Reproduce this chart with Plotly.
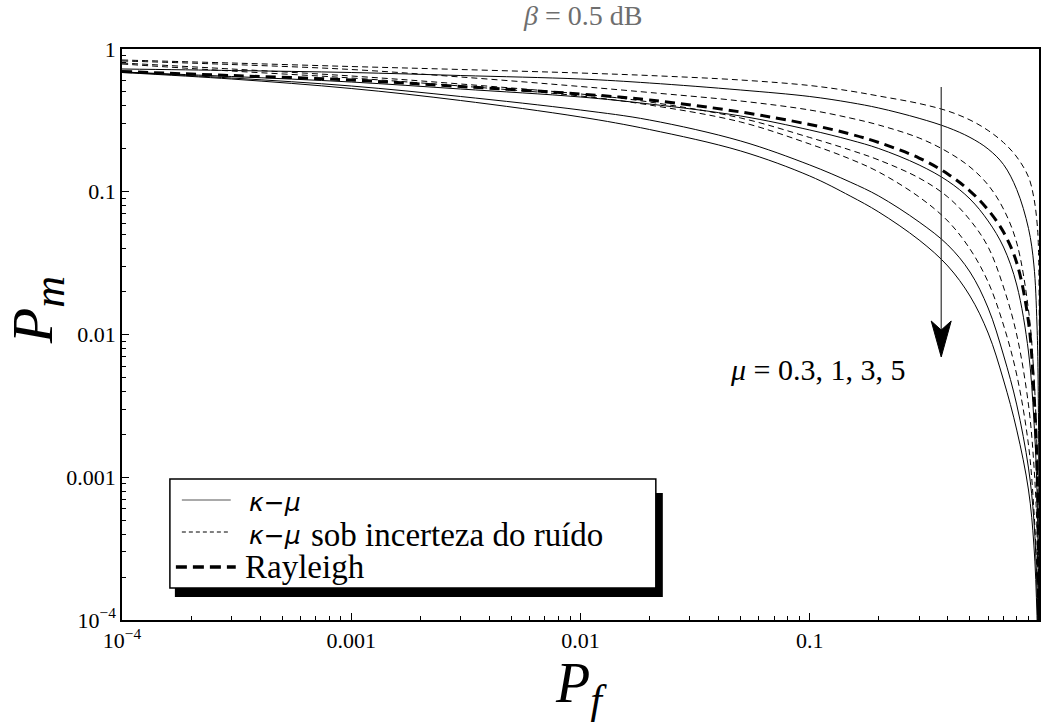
import plotly.graph_objects as go

# ---------------- data ----------------
pf = [1e-4, 3e-4, 1e-3, 3e-3, 1e-2, 0.02, 0.05, 0.1, 0.15, 0.2, 0.3, 0.4, 0.5, 0.6, 0.7,
      0.8, 0.9, 0.95, 0.98, 0.995, 0.99999]

# kappa-mu (solid), mu = 0.3, 1, 3, 5
km_mu03 = [0.7244, 0.7070, 0.6845, 0.6520, 0.6164, 0.5779, 0.5162, 0.4648, 0.4219, 0.3861, 0.3269,
           0.2818, 0.2403, 0.1993, 0.1552, 0.1035, 0.0553, 0.0307, 0.01166, 0.00252, 1e-5]
km_mu1 = [0.6900, 0.6418, 0.5872, 0.5245, 0.4610, 0.4118, 0.3393, 0.2708, 0.2304, 0.2009, 0.1540,
          0.1189, 0.0890, 0.0624, 0.0410, 0.0222, 0.00754, 0.00252, 0.000814, 0.0001175, 1e-5]
km_mu3 = [0.6900, 0.6264, 0.5505, 0.4648, 0.3738, 0.3182, 0.2267, 0.1540, 0.1170, 0.0934, 0.0614,
          0.0424, 0.0274, 0.01533, 0.00718, 0.00321, 0.00116, 0.000502, 0.000162, 0.000038, 1e-5]
km_mu5 = [0.6845, 0.6164, 0.5288, 0.4357, 0.3339, 0.2729, 0.1930, 0.1289, 0.0934, 0.0721, 0.0459,
          0.0302, 0.0186, 0.01024, 0.0048, 0.00214, 0.000814, 0.000335, 0.000108, 0.0000323, 1e-5]

# kappa-mu under noise uncertainty (dashed), mu = 0.3, 1, 3, 5
kmn_mu03 = [0.8375, 0.7979, 0.7538, 0.7185, 0.6788, 0.6520, 0.6064, 0.5549, 0.5078, 0.4685, 0.4150,
            0.3678, 0.3182, 0.2686, 0.2213, 0.1752, 0.1269, 0.0904, 0.0614, 0.0391, 1e-5]
kmn_mu1 = [0.8241, 0.7788, 0.7185, 0.6366, 0.5461, 0.4958, 0.4322, 0.3738, 0.3285, 0.2935, 0.2380,
           0.1898, 0.1491, 0.1115, 0.0757, 0.0437, 0.01485, 0.0052, 0.00155, 0.000263, 1e-5]
kmn_mu3 = [0.7979, 0.7244, 0.6470, 0.5686, 0.4839, 0.4253, 0.3285, 0.2399, 0.1961, 0.1669, 0.1248,
           0.0919, 0.0634, 0.0410, 0.0215, 0.00992, 0.00321, 0.00122, 0.000427, 0.0000724, 1e-5]
kmn_mu5 = [0.7851, 0.7012, 0.6264, 0.5505, 0.4685, 0.4052, 0.3080, 0.2160, 0.1696, 0.1375, 0.0919,
           0.0624, 0.0397, 0.0233, 0.01166, 0.0052, 0.00168, 0.00059, 0.000207, 0.0000525, 1e-5]

# Rayleigh (thick dashed)
rayleigh = [0.6956, 0.6520, 0.6064, 0.5461, 0.4839, 0.4393, 0.3620, 0.2958, 0.2538, 0.2213, 0.1723,
            0.1331, 0.1012, 0.0745, 0.0522, 0.0317, 0.01224, 0.00396, 0.00122, 0.000176, 1e-5]

tick_vals = [1e-4, 1e-3, 1e-2, 1e-1, 1]
x_tick_text = ["10<sup>\u22124</sup>", "0.001", "0.01", "0.1", "1"]
y_tick_text = ["10<sup>\u22124</sup>", "0.001", "0.01", "0.1", "1"]

title_text = "<i>\u03b2</i> = 0.5 dB"
legend_kappa_mu = "<i>\u03ba\u2212\u03bc</i>"
legend_noise = "sob incerteza do ruído"
legend_rayleigh = "Rayleigh"
arrow_label = "<i>\u03bc</i> = 0.3, 1, 3, 5"

# ---------------- layout geometry ----------------
W, H = 1042, 722
L, R, T, B = 122, 1041, 49, 620


def px(x):
    return (x - L) / (R - L)


def py(y):
    return (B - y) / (B - T)


SERIF = "Liberation Serif"

fig = go.Figure()

for ys in [km_mu03, km_mu1, km_mu3, km_mu5]:
    fig.add_trace(go.Scatter(x=pf, y=ys, mode="lines",
                             line=dict(color="black", width=1, shape="spline", smoothing=1),
                             showlegend=False, hoverinfo="skip"))
for ys in [kmn_mu03, kmn_mu1, kmn_mu3, kmn_mu5]:
    fig.add_trace(go.Scatter(x=pf, y=ys, mode="lines",
                             line=dict(color="black", width=1, dash="6px,4px", shape="spline", smoothing=1),
                             showlegend=False, hoverinfo="skip"))
fig.add_trace(go.Scatter(x=pf, y=rayleigh, mode="lines",
                         line=dict(color="black", width=3, dash="10px,6px", shape="spline", smoothing=1),
                         showlegend=False, hoverinfo="skip"))

minor_vals = [m * 10 ** k for k in range(-4, 0) for m in range(2, 10)]

axis_common = dict(
    type="log",
    showgrid=False,
    zeroline=False,
    showline=True,
    linecolor="black",
    linewidth=1.5,
    ticks="inside",
    ticklen=7,
    tickwidth=1,
    tickcolor="black",
    tickvals=tick_vals,
    tickfont=dict(family=SERIF, size=22, color="black"),
    minor=dict(ticks="inside", ticklen=4, tickwidth=1, tickcolor="black", tickvals=minor_vals, showgrid=False),
)

fig.update_xaxes(**axis_common, range=[-4, 0], ticktext=x_tick_text, mirror=True)
fig.update_yaxes(**axis_common, range=[-4, 0], ticktext=y_tick_text, mirror=True)

shapes = []
annotations = []

# legend box with shadow
shapes.append(dict(type="rect", xref="paper", yref="paper",
                   x0=px(175), x1=px(664), y0=py(597), y1=py(493),
                   fillcolor="black", line=dict(width=0), layer="above"))
shapes.append(dict(type="rect", xref="paper", yref="paper",
                   x0=px(170), x1=px(657), y0=py(588), y1=py(479),
                   fillcolor="white", line=dict(color="black", width=1.5), layer="above"))
# legend samples
shapes.append(dict(type="line", xref="paper", yref="paper", x0=px(182), x1=px(231), y0=py(500), y1=py(500),
                   line=dict(color="#555", width=1), layer="above"))
shapes.append(dict(type="line", xref="paper", yref="paper", x0=px(182), x1=px(231), y0=py(532), y1=py(532),
                   line=dict(color="black", width=1, dash="4px,3px"), layer="above"))
shapes.append(dict(type="line", xref="paper", yref="paper", x0=px(176), x1=px(236), y0=py(567), y1=py(567),
                   line=dict(color="black", width=3.5, dash="11px,6px"), layer="above"))

annotations.append(dict(xref="paper", yref="paper", x=px(247), y=py(502), xanchor="left", yanchor="middle",
                        text=legend_kappa_mu, showarrow=False,
                        font=dict(family="DejaVu Sans", size=25, color="black")))
annotations.append(dict(xref="paper", yref="paper", x=px(247), y=py(535), xanchor="left", yanchor="middle",
                        text=legend_kappa_mu, showarrow=False,
                        font=dict(family="DejaVu Sans", size=25, color="black")))
annotations.append(dict(xref="paper", yref="paper", x=px(309), y=py(535), xanchor="left", yanchor="middle",
                        text=legend_noise, showarrow=False,
                        font=dict(family=SERIF, size=33, color="black")))
annotations.append(dict(xref="paper", yref="paper", x=px(243), y=py(567), xanchor="left", yanchor="middle",
                        text=legend_rayleigh, showarrow=False, font=dict(family=SERIF, size=33, color="black")))

# arrow
shapes.append(dict(type="line", xref="paper", yref="paper", x0=px(943), x1=px(943), y0=py(87), y1=py(330),
                   line=dict(color="#333", width=1.2), layer="above"))
shapes.append(dict(type="path", xref="paper", yref="paper",
                   path="M {:.5f},{:.5f} L {:.5f},{:.5f} L {:.5f},{:.5f} L {:.5f},{:.5f} Z".format(
                       px(933), py(321), px(943), py(357), px(953), py(321), px(943), py(330)),
                   fillcolor="black", line=dict(color="black", width=1), layer="above"))
annotations.append(dict(xref="paper", yref="paper", x=px(819), y=py(369), xanchor="center", yanchor="middle",
                        text=arrow_label, showarrow=False, font=dict(family=SERIF, size=30, color="black")))

# title
annotations.append(dict(xref="paper", yref="paper", x=px(584), y=py(15), xanchor="center", yanchor="middle",
                        text=title_text, showarrow=False, font=dict(family=SERIF, size=28, color="#6e6e6e")))
# axis titles
annotations.append(dict(xref="paper", yref="paper", x=px(37), y=py(310), xanchor="center", yanchor="middle",
                        text="<i>P</i><sub><i><span style='font-size:44px'>m</span></i></sub>",
                        textangle=-90, showarrow=False,
                        font=dict(family=SERIF, size=58, color="black")))
annotations.append(dict(xref="paper", yref="paper", x=px(582), y=py(687), xanchor="center", yanchor="middle",
                        text="<i>P</i><sub><i><span style='font-size:42px'>f</span></i></sub>",
                        showarrow=False,
                        font=dict(family=SERIF, size=56, color="black")))

fig.update_layout(
    width=W, height=H,
    margin=dict(l=L, r=W - R, t=T, b=H - B),
    paper_bgcolor="white", plot_bgcolor="white",
    showlegend=False,
    shapes=shapes,
    annotations=annotations,
)

fig.write_html("out.html")
